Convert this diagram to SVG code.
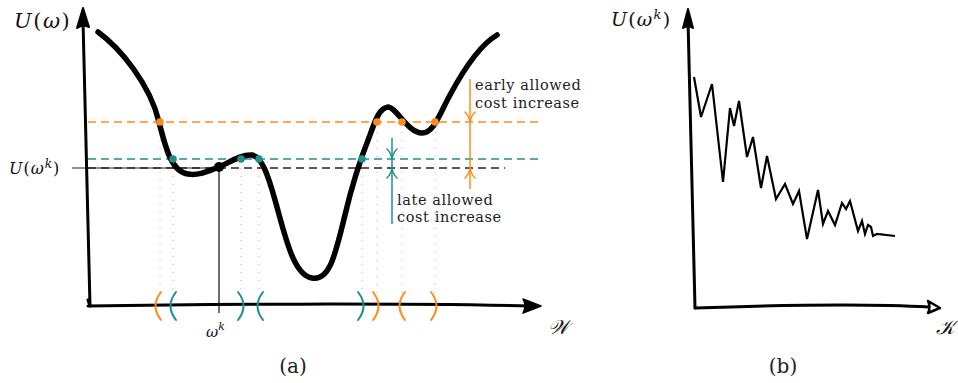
<svg xmlns="http://www.w3.org/2000/svg" width="958" height="383" viewBox="0 0 958 383">
<style>
.ax{fill:none;stroke:#000;stroke-width:3;stroke-linecap:round;stroke-linejoin:round}
.curve{fill:none;stroke:#000;stroke-width:5.5;stroke-linecap:round;stroke-linejoin:round}
.jag{fill:none;stroke:#000;stroke-width:2.2;stroke-linejoin:miter}
.dash{fill:none;stroke-width:1.3;stroke-dasharray:8 5}
.or{stroke:#ff8c1a}
.te{stroke:#1f8f8f}
.bk{stroke:#222}
.dot{fill:none;stroke:#b0b0b0;stroke-width:1;stroke-dasharray:1 7}
.par{fill:none;stroke-width:2;stroke-linecap:round}
.arr{fill:none;stroke-width:1.5;stroke-linecap:round;stroke-linejoin:round}
.t{font-family:"DejaVu Serif","Liberation Serif",serif;fill:#222}
.lbl{font-size:14.5px;letter-spacing:0.6px}
.m{font-family:"DejaVu Serif","Liberation Serif",serif;font-style:italic;fill:#111}
.u{font-style:normal}
</style>
<rect width="958" height="383" fill="#fff"/>

<g id="panel-a">
  <g id="guides">
    <line class="dot" x1="160" y1="124" x2="160" y2="300"/>
    <line class="dot" x1="173" y1="160" x2="173" y2="300"/>
    <line class="dot" x1="241" y1="160" x2="241" y2="300"/>
    <line class="dot" x1="259" y1="160" x2="259" y2="300"/>
    <line class="dot" x1="362" y1="160" x2="362" y2="300"/>
    <line class="dot" x1="377" y1="124" x2="377" y2="300"/>
    <line class="dot" x1="402" y1="124" x2="402" y2="300"/>
    <line class="dot" x1="435" y1="124" x2="435" y2="300"/>
    <line x1="72" y1="168" x2="220" y2="168" stroke="#222" stroke-width="1.2"/>
    <line class="dash bk" x1="88" y1="168" x2="505" y2="168"/>
    <line class="dash te" x1="88" y1="159" x2="540" y2="159"/>
    <line class="dash or" x1="88" y1="122" x2="540" y2="122"/>
    <line x1="219" y1="167" x2="219" y2="313" stroke="#111" stroke-width="1.2"/>
  </g>
  <g id="axes-a">
    <path class="ax" d="M90,306 C88,220 86,120 83,20"/>
    <path d="M83,8 L77,28 Q83,24 89,27 Z" fill="#000" stroke="#000" stroke-width="2" stroke-linejoin="round"/>
    <path class="ax" d="M90,306 L88,300 M88,306 C200,304 400,303 530,306"/>
    <path d="M541,306 L523,299 Q527,306 523,313 Z" fill="#000" stroke="#000" stroke-width="1.5" stroke-linejoin="round"/>
  </g>
  <g id="curve-a">
    <path class="curve" d="M98,32 C120,48 150,84 159,122 C166,150 172,172 188,174 C200,176 210,170 219,167 C230,162 242,154 252,155 C262,157 268,175 275,200 C285,235 293,275 312,278 C330,281 335,255 345,215 C352,185 360,160 370,135 C376,118 380,108 388,107 C396,107 408,133 422,133 C434,133 440,113 450,95 C465,67 480,45 497,35"/>
  </g>
  <g id="points">
    <circle cx="160" cy="122" r="3.8" fill="#ff8c1a"/>
    <circle cx="377" cy="122" r="3.8" fill="#ff8c1a"/>
    <circle cx="402" cy="122" r="3.8" fill="#ff8c1a"/>
    <circle cx="435" cy="122" r="3.8" fill="#ff8c1a"/>
    <circle cx="173" cy="159" r="3.8" fill="#1f8f8f"/>
    <circle cx="241" cy="159" r="3.8" fill="#1f8f8f"/>
    <circle cx="259" cy="159" r="3.8" fill="#1f8f8f"/>
    <circle cx="362" cy="159" r="3.8" fill="#1f8f8f"/>
    <circle cx="219" cy="167" r="5" fill="#000"/>
  </g>
  <g id="intervals">
    <path class="par or" d="M161,292 Q150,306 161,320"/>
    <path class="par te" d="M176,292 Q165,306 176,320"/>
    <path class="par te" d="M238,292 Q249,306 238,320"/>
    <path class="par te" d="M263,292 Q252,306 263,320"/>
    <path class="par te" d="M358,292 Q369,306 358,320"/>
    <path class="par or" d="M373,292 Q384,306 373,320"/>
    <path class="par or" d="M405,292 Q394,306 405,320"/>
    <path class="par or" d="M431,292 Q442,306 431,320"/>
  </g>
  <g id="early">
    <line class="or" x1="470" y1="79" x2="470" y2="189" stroke-width="1.5"/>
    <path class="arr or" d="M465,112 Q469,116 470,122 Q471,116 475,112"/>
    <path class="arr or" d="M465,178 Q469,174 470,168 Q471,174 475,178"/>
    <text class="t lbl" x="475" y="90">early allowed</text>
    <text class="t lbl" x="475" y="108">cost increase</text>
  </g>
  <g id="late">
    <line class="te" x1="392" y1="138" x2="392" y2="224" stroke-width="1.5"/>
    <path class="arr te" d="M387,149 Q391,153 392,159 Q393,153 397,149"/>
    <path class="arr te" d="M387,178 Q391,174 392,168 Q393,174 397,178"/>
    <text class="t lbl" x="397" y="205">late allowed</text>
    <text class="t lbl" x="397" y="222">cost increase</text>
  </g>
  <g id="labels-a">
    <text class="m" font-size="21" letter-spacing="1.5" x="14" y="28">U<tspan class="u">(</tspan>ω<tspan class="u">)</tspan></text>
    <text class="m" font-size="16" letter-spacing="1" x="9" y="174">U<tspan class="u">(</tspan>ω<tspan font-size="12" dy="-6">k</tspan><tspan class="u" dy="6">)</tspan></text>
    <text class="m" font-size="15" x="206" y="337">ω<tspan font-size="11" dy="-7">k</tspan></text>
    <text class="m" font-size="20" x="548" y="334">𝒲</text>
    <text class="t" font-size="20" x="293" y="373" text-anchor="middle">(a)</text>
  </g>
</g>

<g id="panel-b">
  <g id="axes-b">
    <path class="ax" d="M695,308 C693,220 691,120 688,20"/>
    <path d="M688,9 L683,28 Q688,25 693,28 Z" fill="#000" stroke="#000" stroke-width="2" stroke-linejoin="round"/>
    <path class="ax" d="M695,308 C780,305 860,303 929,307"/>
    <path d="M940,308 L928,301 Q931,307 928,313 Z" fill="#fff" stroke="#000" stroke-width="2.5" stroke-linejoin="round"/>
  </g>
  <g id="series">
    <polyline class="jag" points="694,77 701,117 712,84 723,182 730,108 734,126 739,101 747,157 753,137 761,188 767,156 776,199 785,184 793,204 799,191 807,239 818,190 823,224 828,211 835,225 842,203 846,209 850,201 858,231 862,221 865,234 868,225 871,227 873,236 877,234 895,236"/>
  </g>
  <g id="labels-b">
    <text class="m" font-size="19" letter-spacing="1.2" x="611" y="26">U<tspan class="u">(</tspan>ω<tspan font-size="13" dy="-7">k</tspan><tspan class="u" dy="7">)</tspan></text>
    <text class="m" font-size="20" x="936" y="334">𝒦</text>
    <text class="t" font-size="20" x="783" y="373" text-anchor="middle">(b)</text>
  </g>
</g>
</svg>
